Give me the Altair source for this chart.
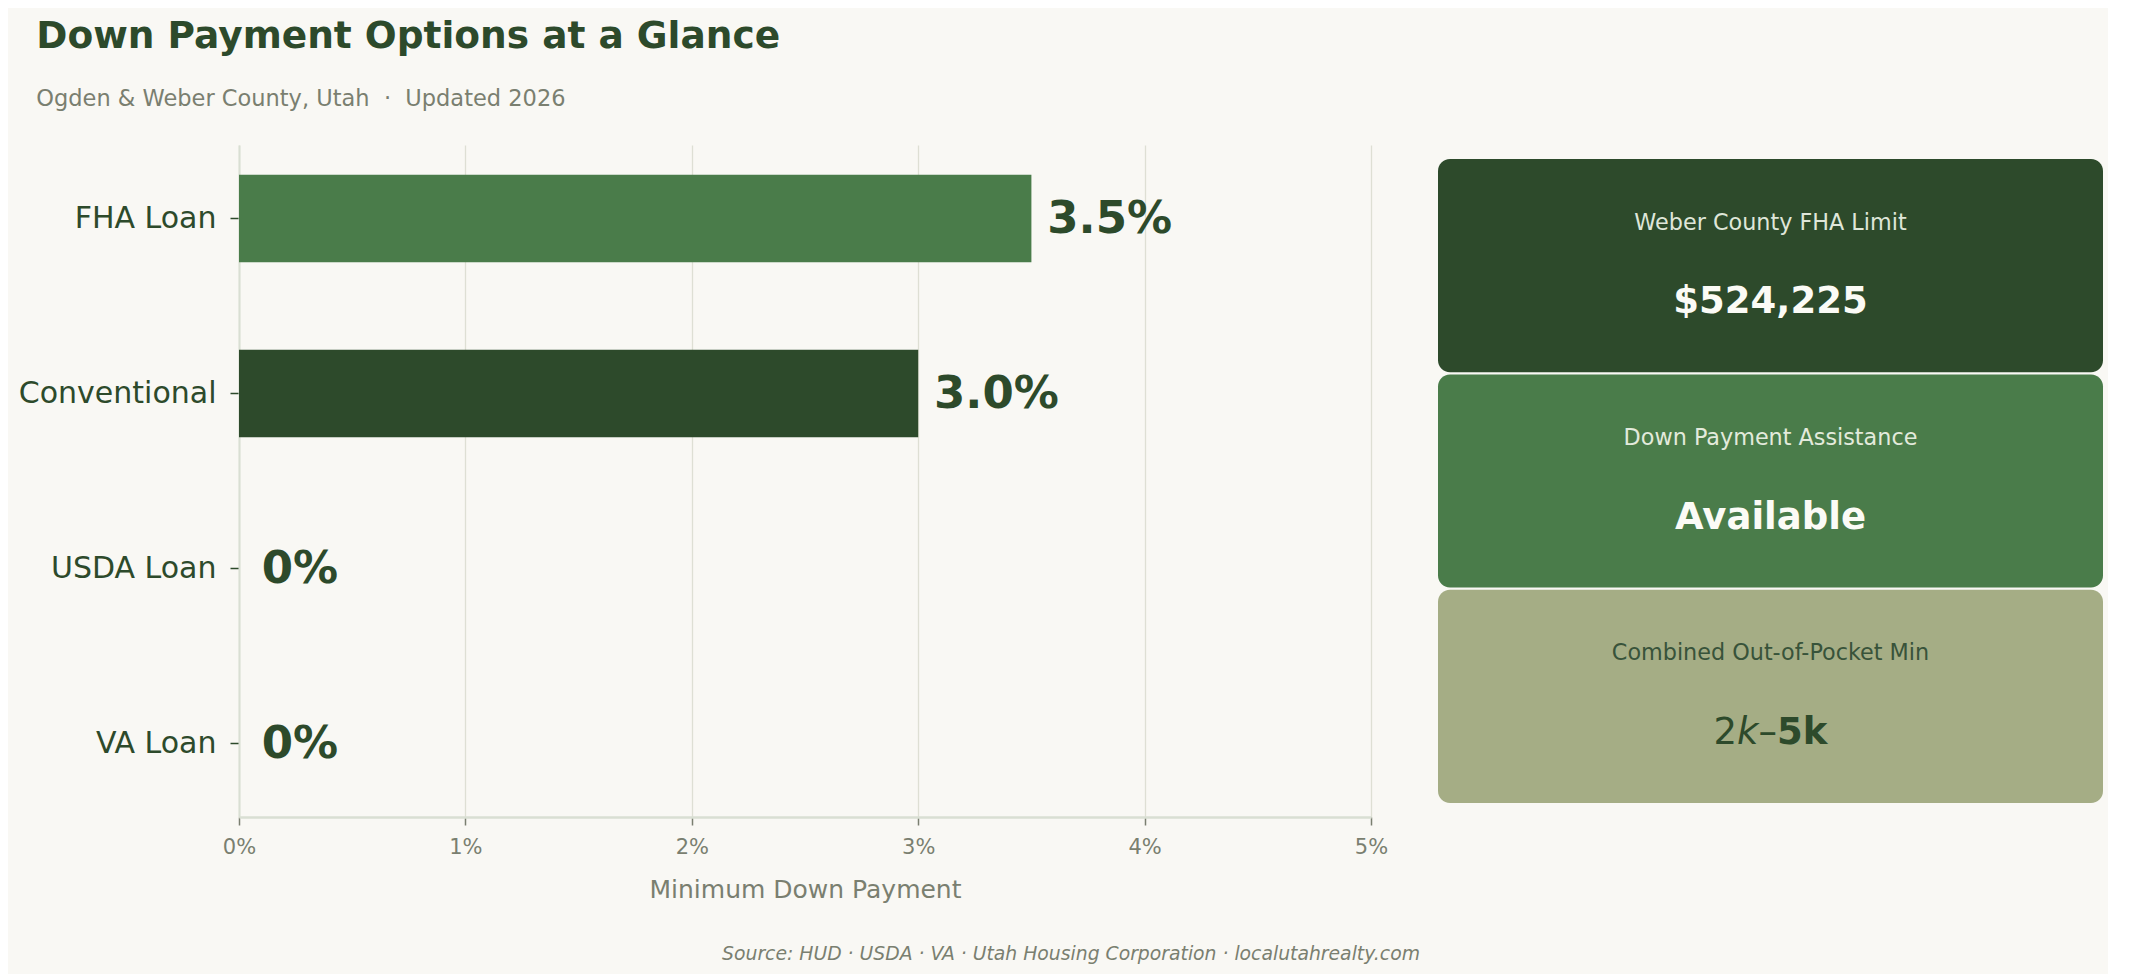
import altair as alt
import pandas as pd

# loan types and minimum down payment (%)
loans = ["FHA Loan", "Conventional", "USDA Loan", "VA Loan"]
min_down = [3.5, 3.0, 0.0, 0.0]
down_labels = ["3.5%", "3.0%", "0%", "0%"]
bar_colors = ["#4a7c4a", "#2d4a2b", "#4a7c4a", "#4a7c4a"]

# side cards
card_titles = ["Weber County FHA Limit", "Down Payment Assistance", "Combined Out-of-Pocket Min"]
card_values = ["$524,225", "Available", ""]
card_fill = ["#2d4a2b", "#4a7c4a", "#a5ad85"]
card_title_color = ["#dfe6d9", "#e3eadc", "#38533a"]
card_value_color = ["#fbfbf6", "#fbfbf6", "#2d4a2b"]

# third card value, drawn the way the mathtext original came out:
# "2" upright, "k" italic, "–" upright, "5k" bold
range_parts = ["2", "k", "–", "5k"]
range_styles = [("normal", "normal"), ("italic", "normal"), ("normal", "normal"), ("normal", "bold")]
range_dx = [-57, -33.5, -12, 6.5]

source = "Source: HUD · USDA · VA · Utah Housing Corporation · localutahrealty.com"

DARK = "#2d4a2b"
GREY = "#7a7f70"
LINE = "#d9dfd3"
GRID = "#dedfd4"
BG = "#f9f8f4"
FONT = "DejaVu Sans"

bars_df = pd.DataFrame({"loan": loans, "pct": min_down, "label": down_labels})

y_enc = alt.Y(
    "loan:N",
    sort=loans,
    title=None,
    scale=alt.Scale(paddingInner=0.5, paddingOuter=0.17),
    axis=alt.Axis(
        labelFontSize=30, labelColor=DARK, labelPadding=14, labelLimit=400,
        tickSize=9, tickColor=DARK, tickWidth=1.5,
        domainColor=LINE, domainWidth=2, grid=False,
    ),
)

x_axis = alt.Axis(
    values=[0, 1, 2, 3, 4, 5],
    labelExpr="datum.value + '%'",
    labelFontSize=21, labelColor=GREY, labelPadding=11, labelFlush=False,
    tickSize=8, tickColor=GREY, tickWidth=1.5,
    domainColor=LINE, domainWidth=2.5,
    grid=True, gridColor=GRID, gridWidth=1.3,
    titleFontSize=25, titleColor=GREY, titleFontWeight="normal", titlePadding=20,
)
x_scale = alt.Scale(domain=[0, 5], nice=False)

base = alt.Chart(bars_df)
bars = base.mark_bar().encode(
    x=alt.X("pct:Q", title="Minimum Down Payment", scale=x_scale, axis=x_axis),
    y=y_enc,
    color=alt.Color("loan:N", scale=alt.Scale(domain=loans, range=bar_colors), legend=None),
)
labels = base.mark_text(
    align="left", baseline="middle", fontSize=45, fontWeight="bold", color=DARK
).encode(
    x=alt.X("pos:Q", title="Minimum Down Payment", scale=x_scale, axis=x_axis),
    y=y_enc,
    text="label:N",
).transform_calculate(
    pos="datum.pct > 0 ? datum.pct + 0.07 : 0.1"
)
bar_chart = alt.layer(bars, labels).properties(width=1132, height=672)

# cards
cards_df = pd.DataFrame({
    "idx": [0, 1, 2],
    "title": card_titles,
    "value": card_values,
    "fill": card_fill,
    "tcolor": card_title_color,
    "vcolor": card_value_color,
})
cy = alt.Scale(domain=[-0.06, 3.06], reverse=True)
card_base = alt.Chart(cards_df).transform_calculate(
    top="datum.idx + 0.005",
    bottom="datum.idx + 0.995",
    ty="datum.idx + 0.3",
    vy="datum.idx + 0.67",
)
rects = card_base.mark_rect(cornerRadius=12).encode(
    y=alt.Y("top:Q", scale=cy, axis=None),
    y2="bottom:Q",
    color=alt.Color("fill:N", scale=None),
)
titles = card_base.mark_text(fontSize=22.3, baseline="middle").encode(
    y=alt.Y("ty:Q", scale=cy, axis=None),
    text="title:N",
    color=alt.Color("tcolor:N", scale=None),
)
values = card_base.transform_filter("datum.value != ''").mark_text(
    fontSize=37, fontWeight="bold", baseline="middle"
).encode(
    y=alt.Y("vy:Q", scale=cy, axis=None),
    text="value:N",
    color=alt.Color("vcolor:N", scale=None),
)
range_layers = []
for part, (style, weight), dx in zip(range_parts, range_styles, range_dx):
    range_layers.append(
        card_base.transform_filter("datum.idx == 2").mark_text(
            fontSize=37, fontStyle=style, fontWeight=weight,
            align="left", baseline="middle", dx=dx,
        ).encode(
            y=alt.Y("vy:Q", scale=cy, axis=None),
            text=alt.value(part),
            color=alt.Color("vcolor:N", scale=None),
        )
    )
cards = alt.layer(rects, titles, values, *range_layers).properties(width=665, height=672)

# footer view starts at the bar plot's left edge; its centre sits at the page centre
footer = alt.Chart(pd.DataFrame({"t": [source]})).mark_text(
    fontSize=18.8, fontStyle="italic", color=GREY, baseline="middle"
).encode(text="t:N").properties(width=1664, height=30)

chart = alt.vconcat(
    alt.hconcat(bar_chart, cards, spacing=50),
    footer,
    spacing=37,
).properties(
    title=alt.TitleParams(
        text="Down Payment Options at a Glance",
        subtitle="Ogden & Weber County, Utah \u00a0·\u00a0 Updated 2026",
        anchor="start", dx=18, offset=35,
        font=FONT, fontSize=37.5, fontWeight="bold", color=DARK,
        subtitleFont=FONT, subtitleFontSize=22.5, subtitleColor=GREY, subtitlePadding=32,
    ),
    padding={"left": 10, "top": 10, "right": 5, "bottom": 5},
    background=BG,
).configure(
    font=FONT
).configure_view(
    stroke=None
)

chart.save("out.html", embed_options={"renderer": "svg", "actions": False})
